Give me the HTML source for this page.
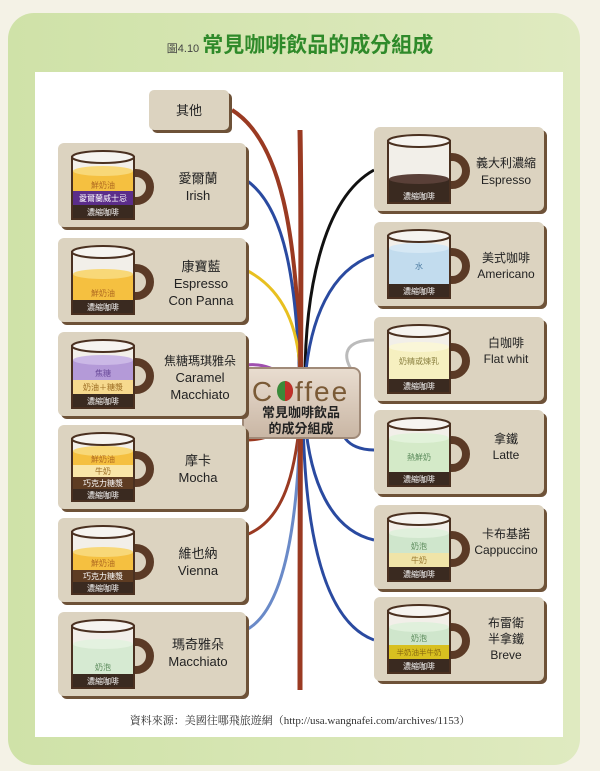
<!DOCTYPE html>
<html><head><meta charset="utf-8"><style>
html,body{margin:0;padding:0;background:#f4f2e6;}
svg{display:block;font-family:"Liberation Sans","Noto Sans CJK TC",sans-serif;}
</style></head><body>
<svg width="600" height="771" viewBox="0 0 600 771" xmlns="http://www.w3.org/2000/svg">
<defs>
<linearGradient id="gr" x1="0" y1="0" x2="1" y2="0"><stop offset="0" stop-color="#cfe2a8"/><stop offset="1" stop-color="#dfeac0"/></linearGradient>
<linearGradient id="cb" x1="0" y1="0" x2="0" y2="1"><stop offset="0" stop-color="#e9ddd0"/><stop offset="1" stop-color="#c9b6a4"/></linearGradient>
<g id="handle"><circle cx="78" cy="44" r="14" fill="none" stroke="#5b3a26" stroke-width="8"/></g>
</defs>
<rect x="0" y="0" width="600" height="771" fill="#f4f2e6"/>
<rect x="8" y="13" width="572" height="752" rx="26" fill="url(#gr)"/>
<text x="300" y="52" text-anchor="middle" font-size="21" fill="#2f8a2a" font-weight="bold"><tspan font-size="11" fill="#444" font-weight="normal">圖4.10 </tspan>常見咖啡飲品的成分組成</text>
<rect x="35" y="72" width="528" height="665" fill="#fff"/>

<g fill="none" stroke-width="3">
<path d="M232,110 C280,140 298,230 300,380" stroke="#9a3a22" stroke-width="4"/>
<path d="M246,180 C290,210 296,300 300,380" stroke="#2a4aa0"/>
<path d="M246,270 C285,290 298,330 300,370" stroke="#e8c020"/>
<path d="M246,365 C275,362 285,380 292,380" stroke="#a050b0"/>
<path d="M246,440 C280,440 290,420 298,410" stroke="#9a3a22"/>
<path d="M246,535 C285,520 295,470 300,420" stroke="#9a3a22"/>
<path d="M246,630 C285,610 298,520 300,420" stroke="#6a8ac8"/>
<path d="M374,170 C320,200 305,300 305,380" stroke="#111"/>
<path d="M374,255 C330,270 310,320 305,380" stroke="#2a4aa0"/>
<path d="M374,340 C345,340 340,355 355,375" stroke="#bbb"/>
<path d="M374,450 C345,450 338,430 345,425" stroke="#2a4aa0"/>
<path d="M374,540 C330,530 310,480 305,420" stroke="#2a4aa0"/>
<path d="M374,640 C320,620 305,520 303,420" stroke="#2a4aa0"/>
<path d="M300,130 C302,250 300,350 300,690" stroke="#9a3a22" stroke-width="5"/>
</g>

<!-- 其他 -->
<rect x="152" y="93" width="80" height="40" rx="5" fill="#6e5238"/>
<rect x="149" y="90" width="80" height="40" rx="5" fill="#dcd3c0"/>
<text x="189" y="115" text-anchor="middle" font-size="13" fill="#222">其他</text>

<!-- center -->
<rect x="243" y="368" width="117" height="70" rx="7" fill="url(#cb)" stroke="#a08a78" stroke-width="2"/>
<text x="262" y="401" text-anchor="middle" font-size="28" fill="#7a5a36">C</text>
<ellipse cx="285" cy="391" rx="8" ry="10" fill="#3a8a3a"/><path d="M285,381 A8,10 0 0 1 285,401 Z" fill="#c0302a"/>
<text x="295" y="401" font-size="28" fill="#7a5a36" letter-spacing="2">ffee</text>
<text x="301" y="417" text-anchor="middle" font-size="13" fill="#222" font-weight="bold">常見咖啡飲品</text>
<text x="301" y="433" text-anchor="middle" font-size="13" fill="#222" font-weight="bold">的成分組成</text>

<g font-size="8" text-anchor="middle">
<!-- LEFT cards -->
<g transform="translate(58,143)">
<rect x="3" y="3" width="188" height="84" rx="6" fill="#6e5238"/><rect width="188" height="84" rx="6" fill="#dcd3c0"/>
<use href="#handle"/><rect x="14" y="14" width="62" height="62" fill="#f2efe9"/>
<rect x="15" y="28" width="60" height="20" fill="#f5c040"/><ellipse cx="45" cy="28" rx="30" ry="5" fill="#f8d878"/>
<rect x="15" y="48" width="60" height="14" fill="#5b2d8a"/><rect x="15" y="62" width="60" height="14" fill="#3a2a20"/>
<text x="45" y="45" fill="#b06a20">鮮奶油</text><text x="45" y="58" fill="#fff">愛爾蘭威士忌</text><text x="45" y="72" fill="#fff">濃縮咖啡</text>
<rect x="14" y="14" width="62" height="62" fill="none" stroke="#4a3020" stroke-width="2"/><ellipse cx="45" cy="14" rx="31" ry="6" fill="#f6f4f0" stroke="#4a3020" stroke-width="2"/>
<text x="140" y="40" font-size="13" fill="#222">愛爾蘭</text><text x="140" y="57" font-size="13" fill="#222">Irish</text></g>

<g transform="translate(58,238)">
<rect x="3" y="3" width="188" height="84" rx="6" fill="#6e5238"/><rect width="188" height="84" rx="6" fill="#dcd3c0"/>
<use href="#handle"/><rect x="14" y="14" width="62" height="62" fill="#f2efe9"/>
<rect x="15" y="36" width="60" height="26" fill="#f5c040"/><ellipse cx="45" cy="36" rx="30" ry="5" fill="#f8d878"/>
<rect x="15" y="62" width="60" height="14" fill="#3a2a20"/>
<text x="45" y="58" fill="#b06a20">鮮奶油</text><text x="45" y="72" fill="#fff">濃縮咖啡</text>
<rect x="14" y="14" width="62" height="62" fill="none" stroke="#4a3020" stroke-width="2"/><ellipse cx="45" cy="14" rx="31" ry="6" fill="#f6f4f0" stroke="#4a3020" stroke-width="2"/>
<text x="143" y="33" font-size="13" fill="#222">康寶藍</text><text x="143" y="50" font-size="13" fill="#222">Espresso</text><text x="143" y="67" font-size="13" fill="#222">Con Panna</text></g>

<g transform="translate(58,332)">
<rect x="3" y="3" width="188" height="84" rx="6" fill="#6e5238"/><rect width="188" height="84" rx="6" fill="#dcd3c0"/>
<use href="#handle"/><rect x="14" y="14" width="62" height="62" fill="#f2efe9"/>
<rect x="15" y="28" width="60" height="20" fill="#b49ad8"/><ellipse cx="45" cy="28" rx="30" ry="5" fill="#cbb8e6"/>
<rect x="15" y="48" width="60" height="14" fill="#f6d98e"/><rect x="15" y="62" width="60" height="14" fill="#3a2a20"/>
<text x="45" y="44" fill="#6a4a9a">焦糖</text><text x="45" y="58" fill="#9a6a20">奶油＋糖漿</text><text x="45" y="72" fill="#fff">濃縮咖啡</text>
<rect x="14" y="14" width="62" height="62" fill="none" stroke="#4a3020" stroke-width="2"/><ellipse cx="45" cy="14" rx="31" ry="6" fill="#f6f4f0" stroke="#4a3020" stroke-width="2"/>
<text x="142" y="33" font-size="12" fill="#222">焦糖瑪琪雅朵</text><text x="142" y="50" font-size="13" fill="#222">Caramel</text><text x="142" y="67" font-size="13" fill="#222">Macchiato</text></g>

<g transform="translate(58,425)">
<rect x="3" y="3" width="188" height="84" rx="6" fill="#6e5238"/><rect width="188" height="84" rx="6" fill="#dcd3c0"/>
<use href="#handle"/><rect x="14" y="14" width="62" height="62" fill="#f2efe9"/>
<rect x="15" y="26" width="60" height="14" fill="#f5c040"/><ellipse cx="45" cy="26" rx="30" ry="5" fill="#f8d878"/>
<rect x="15" y="40" width="60" height="12" fill="#f9e6a8"/><rect x="15" y="52" width="60" height="12" fill="#5e3c22"/><rect x="15" y="64" width="60" height="12" fill="#3a2a20"/>
<text x="45" y="37" fill="#b06a20">鮮奶油</text><text x="45" y="49" fill="#9a6a20">牛奶</text><text x="45" y="61" fill="#fff">巧克力糖漿</text><text x="45" y="73" fill="#fff">濃縮咖啡</text>
<rect x="14" y="14" width="62" height="62" fill="none" stroke="#4a3020" stroke-width="2"/><ellipse cx="45" cy="14" rx="31" ry="6" fill="#f6f4f0" stroke="#4a3020" stroke-width="2"/>
<text x="140" y="40" font-size="13" fill="#222">摩卡</text><text x="140" y="57" font-size="13" fill="#222">Mocha</text></g>

<g transform="translate(58,518)">
<rect x="3" y="3" width="188" height="84" rx="6" fill="#6e5238"/><rect width="188" height="84" rx="6" fill="#dcd3c0"/>
<use href="#handle"/><rect x="14" y="14" width="62" height="62" fill="#f2efe9"/>
<rect x="15" y="34" width="60" height="18" fill="#f5c040"/><ellipse cx="45" cy="34" rx="30" ry="5" fill="#f8d878"/>
<rect x="15" y="52" width="60" height="12" fill="#5e3c22"/><rect x="15" y="64" width="60" height="12" fill="#3a2a20"/>
<text x="45" y="48" fill="#b06a20">鮮奶油</text><text x="45" y="61" fill="#fff">巧克力糖漿</text><text x="45" y="73" fill="#fff">濃縮咖啡</text>
<rect x="14" y="14" width="62" height="62" fill="none" stroke="#4a3020" stroke-width="2"/><ellipse cx="45" cy="14" rx="31" ry="6" fill="#f6f4f0" stroke="#4a3020" stroke-width="2"/>
<text x="140" y="40" font-size="13" fill="#222">維也納</text><text x="140" y="57" font-size="13" fill="#222">Vienna</text></g>

<g transform="translate(58,612)">
<rect x="3" y="3" width="188" height="84" rx="6" fill="#6e5238"/><rect width="188" height="84" rx="6" fill="#dcd3c0"/>
<use href="#handle"/><rect x="14" y="14" width="62" height="62" fill="#f2efe9"/>
<rect x="15" y="32" width="60" height="30" fill="#d6ead2"/><ellipse cx="45" cy="32" rx="30" ry="5" fill="#e4f2e0"/>
<rect x="15" y="62" width="60" height="14" fill="#3a2a20"/>
<text x="45" y="58" fill="#5a8a5a">奶泡</text><text x="45" y="72" fill="#fff">濃縮咖啡</text>
<rect x="14" y="14" width="62" height="62" fill="none" stroke="#4a3020" stroke-width="2"/><ellipse cx="45" cy="14" rx="31" ry="6" fill="#f6f4f0" stroke="#4a3020" stroke-width="2"/>
<text x="140" y="37" font-size="13" fill="#222">瑪奇雅朵</text><text x="140" y="54" font-size="13" fill="#222">Macchiato</text></g>

<!-- RIGHT cards -->
<g transform="translate(374,127)">
<rect x="3" y="3" width="170" height="84" rx="6" fill="#6e5238"/><rect width="170" height="84" rx="6" fill="#dcd3c0"/>
<use href="#handle"/><rect x="14" y="14" width="62" height="62" fill="#f2efe9"/>
<rect x="15" y="52" width="60" height="24" fill="#3a2a20"/><ellipse cx="45" cy="52" rx="30" ry="5" fill="#5a4038"/>
<text x="45" y="72" fill="#fff">濃縮咖啡</text>
<rect x="14" y="14" width="62" height="62" fill="none" stroke="#4a3020" stroke-width="2"/><ellipse cx="45" cy="14" rx="31" ry="6" fill="#f6f4f0" stroke="#4a3020" stroke-width="2"/>
<text x="132" y="40" font-size="12" fill="#222">義大利濃縮</text><text x="132" y="57" font-size="12" fill="#222">Espresso</text></g>

<g transform="translate(374,222)">
<rect x="3" y="3" width="170" height="84" rx="6" fill="#6e5238"/><rect width="170" height="84" rx="6" fill="#dcd3c0"/>
<use href="#handle"/><rect x="14" y="14" width="62" height="62" fill="#f2efe9"/>
<rect x="15" y="26" width="60" height="36" fill="#c2dcee"/><ellipse cx="45" cy="26" rx="30" ry="5" fill="#d6e8f4"/>
<rect x="15" y="62" width="60" height="14" fill="#3a2a20"/>
<text x="45" y="47" fill="#4a7aa0">水</text><text x="45" y="72" fill="#fff">濃縮咖啡</text>
<rect x="14" y="14" width="62" height="62" fill="none" stroke="#4a3020" stroke-width="2"/><ellipse cx="45" cy="14" rx="31" ry="6" fill="#f6f4f0" stroke="#4a3020" stroke-width="2"/>
<text x="132" y="40" font-size="12" fill="#222">美式咖啡</text><text x="132" y="56" font-size="12" fill="#222">Americano</text></g>

<g transform="translate(374,317)">
<rect x="3" y="3" width="170" height="84" rx="6" fill="#6e5238"/><rect width="170" height="84" rx="6" fill="#dcd3c0"/>
<use href="#handle"/><rect x="14" y="14" width="62" height="62" fill="#f2efe9"/>
<rect x="15" y="30" width="60" height="32" fill="#f6f0c0"/><ellipse cx="45" cy="30" rx="30" ry="5" fill="#faf6d8"/>
<rect x="15" y="62" width="60" height="14" fill="#3a2a20"/>
<text x="45" y="47" fill="#8a8040">奶精或煉乳</text><text x="45" y="72" fill="#fff">濃縮咖啡</text>
<rect x="14" y="14" width="62" height="62" fill="none" stroke="#4a3020" stroke-width="2"/><ellipse cx="45" cy="14" rx="31" ry="6" fill="#f6f4f0" stroke="#4a3020" stroke-width="2"/>
<text x="132" y="30" font-size="12" fill="#222">白咖啡</text><text x="132" y="46" font-size="12" fill="#222">Flat whit</text></g>

<g transform="translate(374,410)">
<rect x="3" y="3" width="170" height="84" rx="6" fill="#6e5238"/><rect width="170" height="84" rx="6" fill="#dcd3c0"/>
<use href="#handle"/><rect x="14" y="14" width="62" height="62" fill="#f2efe9"/>
<rect x="15" y="28" width="60" height="34" fill="#d4eac8"/><ellipse cx="45" cy="28" rx="30" ry="5" fill="#e2f2da"/>
<rect x="15" y="62" width="60" height="14" fill="#3a2a20"/>
<text x="45" y="50" fill="#5a8a5a">熱鮮奶</text><text x="45" y="72" fill="#fff">濃縮咖啡</text>
<rect x="14" y="14" width="62" height="62" fill="none" stroke="#4a3020" stroke-width="2"/><ellipse cx="45" cy="14" rx="31" ry="6" fill="#f6f4f0" stroke="#4a3020" stroke-width="2"/>
<text x="132" y="33" font-size="12" fill="#222">拿鐵</text><text x="132" y="49" font-size="12" fill="#222">Latte</text></g>

<g transform="translate(374,505)">
<rect x="3" y="3" width="170" height="84" rx="6" fill="#6e5238"/><rect width="170" height="84" rx="6" fill="#dcd3c0"/>
<use href="#handle"/><rect x="14" y="14" width="62" height="62" fill="#f2efe9"/>
<rect x="15" y="28" width="60" height="20" fill="#cfe6cc"/><ellipse cx="45" cy="28" rx="30" ry="5" fill="#e0f0dc"/>
<rect x="15" y="48" width="60" height="14" fill="#f0e4a8"/><rect x="15" y="62" width="60" height="14" fill="#3a2a20"/>
<text x="45" y="44" fill="#5a8a5a">奶泡</text><text x="45" y="58" fill="#9a7a30">牛奶</text><text x="45" y="72" fill="#fff">濃縮咖啡</text>
<rect x="14" y="14" width="62" height="62" fill="none" stroke="#4a3020" stroke-width="2"/><ellipse cx="45" cy="14" rx="31" ry="6" fill="#f6f4f0" stroke="#4a3020" stroke-width="2"/>
<text x="132" y="33" font-size="12" fill="#222">卡布基諾</text><text x="132" y="49" font-size="12" fill="#222">Cappuccino</text></g>

<g transform="translate(374,597)">
<rect x="3" y="3" width="170" height="84" rx="6" fill="#6e5238"/><rect width="170" height="84" rx="6" fill="#dcd3c0"/>
<use href="#handle"/><rect x="14" y="14" width="62" height="62" fill="#f2efe9"/>
<rect x="15" y="30" width="60" height="18" fill="#cfe6cc"/><ellipse cx="45" cy="30" rx="30" ry="5" fill="#e0f0dc"/>
<rect x="15" y="48" width="60" height="14" fill="#d8c020"/><rect x="15" y="62" width="60" height="14" fill="#3a2a20"/>
<text x="45" y="44" fill="#5a8a5a">奶泡</text><text x="45" y="58" fill="#8a6a10" font-size="7.5">半奶油半牛奶</text><text x="45" y="72" fill="#fff">濃縮咖啡</text>
<rect x="14" y="14" width="62" height="62" fill="none" stroke="#4a3020" stroke-width="2"/><ellipse cx="45" cy="14" rx="31" ry="6" fill="#f6f4f0" stroke="#4a3020" stroke-width="2"/>
<text x="132" y="30" font-size="12" fill="#222">布雷衛</text><text x="132" y="46" font-size="12" fill="#222">半拿鐵</text><text x="132" y="62" font-size="12" fill="#222">Breve</text></g>
</g>

<text x="300" y="724" text-anchor="middle" font-size="11" fill="#333" font-family="Liberation Serif, Noto Serif CJK SC, serif">資料來源：美國往哪飛旅遊網（http://usa.wangnafei.com/archives/1153）</text>
</svg>
</body></html>
